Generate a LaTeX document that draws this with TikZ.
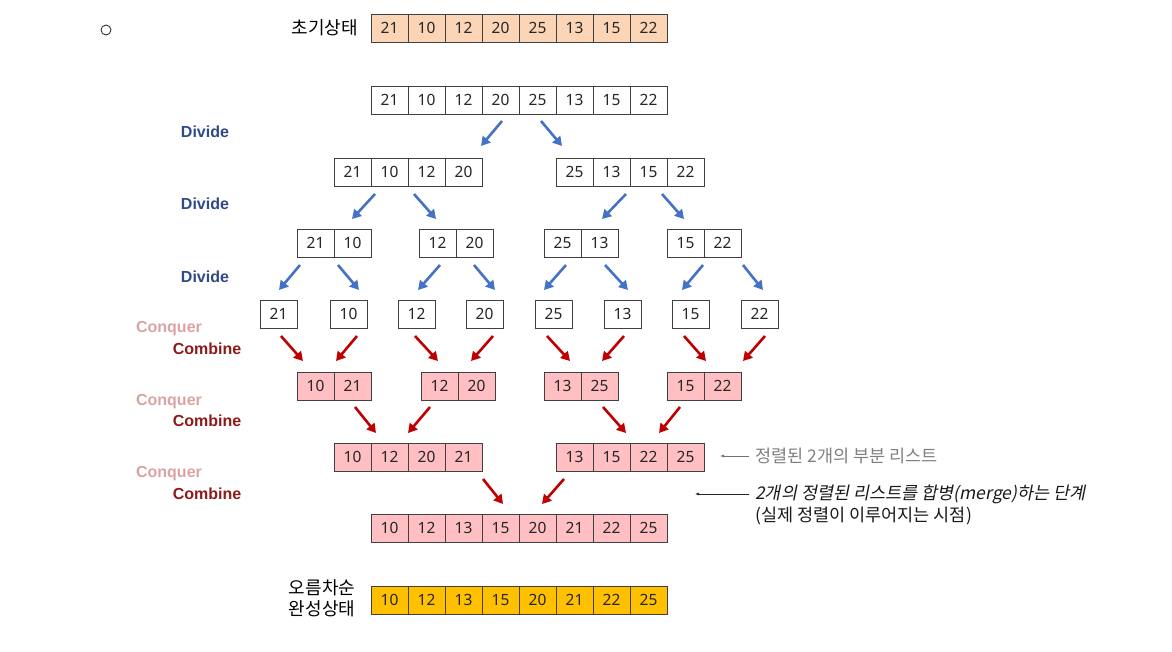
\documentclass[tikz,border=0pt]{standalone}
\usepackage{fontspec}
\setmainfont{Noto Sans}
\newfontfamily\kr{Noto Sans CJK KR}
\newfontfamily\kri{Noto Sans CJK KR}[FakeSlant=0.2]
\newfontfamily\labfont{Liberation Sans}
\usetikzlibrary{arrows.meta}
\definecolor{peach}{HTML}{FBD5B5}
\definecolor{pinkc}{HTML}{FFBFC3}
\definecolor{gold}{HTML}{FFC000}
\definecolor{bluearr}{HTML}{4472C4}
\definecolor{redarr}{HTML}{C00000}
\definecolor{divc}{HTML}{2F4A86}
\definecolor{conqc}{HTML}{D9A3A3}
\definecolor{combc}{HTML}{8E1B1B}
\tikzset{
  cell/.style={draw=black!75, line width=0.8pt, minimum width=37pt, minimum height=28pt, inner sep=0pt, font=\fontsize{15.5}{15.5}\selectfont, text=black!85},
  barr/.style={draw=bluearr, line width=2.6pt, -{Triangle[length=9pt,width=10pt]}},
  rarr/.style={draw=redarr, line width=2.6pt, -{Triangle[length=9pt,width=10pt]}},
  divlab/.style={font=\labfont\bfseries\fontsize{16}{16}\selectfont, text=divc},
  conqlab/.style={font=\labfont\bfseries\fontsize{16}{16}\selectfont, text=conqc},
  comblab/.style={font=\labfont\bfseries\fontsize{16}{16}\selectfont, text=combc},
  note/.style={anchor=west, font=\kr\fontsize{17.5}{21}\selectfont, align=left, inner sep=0pt},
  noteline/.style={line width=0.6pt, -{Latex[length=4pt,width=3pt]}}
}
\newcommand\cellrow[5]{%
  \foreach \v [count=\i] in {#5} {
    \node[cell, fill=#4] (#1-\i) at ({#2+(\i-0.5)*37}, #3) {\v};
  }%
}
\begin{document}
\begin{tikzpicture}[x=1pt, y=-1pt]
\useasboundingbox (0,0) rectangle (1172,651);
\node[draw=black!80, circle, line width=0.9pt, minimum size=10pt, inner sep=0pt] (circ) at (106,30) {};
% initial
\node[anchor=east, font=\kr\fontsize{18}{18}\selectfont, inner sep=0pt] (init) at (358,28) {초기상태};
\cellrow{a}{371}{28}{peach}{21,10,12,20,25,13,15,22}
% row 2
\cellrow{b}{371}{100}{white}{21,10,12,20,25,13,15,22}
% row 3
\cellrow{cl}{334}{172}{white}{21,10,12,20}
\cellrow{cr}{556}{172}{white}{25,13,15,22}
% row 4
\cellrow{d1}{297}{243}{white}{21,10}
\cellrow{d2}{419}{243}{white}{12,20}
\cellrow{d3}{544}{243}{white}{25,13}
\cellrow{d4}{667}{243}{white}{15,22}
% row 5 singles
\cellrow{e1}{260}{314}{white}{21}
\cellrow{e2}{330}{314}{white}{10}
\cellrow{e3}{398}{314}{white}{12}
\cellrow{e4}{466}{314}{white}{20}
\cellrow{e5}{535}{314}{white}{25}
\cellrow{e6}{604}{314}{white}{13}
\cellrow{e7}{672}{314}{white}{15}
\cellrow{e8}{741}{314}{white}{22}
% row 6
\cellrow{f1}{297}{386}{pinkc}{10,21}
\cellrow{f2}{421}{386}{pinkc}{12,20}
\cellrow{f3}{544}{386}{pinkc}{13,25}
\cellrow{f4}{667}{386}{pinkc}{15,22}
% row 7
\cellrow{gl}{334}{457}{pinkc}{10,12,20,21}
\cellrow{gr}{556}{457}{pinkc}{13,15,22,25}
% row 8
\cellrow{h}{371}{528}{pinkc}{10,12,13,15,20,21,22,25}
% final
\cellrow{k}{371}{600}{gold}{10,12,13,15,20,21,22,25}
\node[font=\kr\fontsize{18}{21}\selectfont, align=center, inner sep=0pt] (fin) at (322,598) {오름차순\\완성상태};
% labels
\node[divlab] (dv1) at (205,132) {Divide};
\node[divlab] (dv2) at (205,204) {Divide};
\node[divlab] (dv3) at (205,277) {Divide};
\node[conqlab] (cq1) at (169,329) {Conquer};
\node[comblab] (cb1) at (207,349) {Combine};
\node[conqlab] (cq2) at (169,402) {Conquer};
\node[comblab] (cb2) at (207,421) {Combine};
\node[conqlab] (cq3) at (169,474) {Conquer};
\node[comblab] (cb3) at (207,494) {Combine};
% blue arrows
\foreach \n/\a/\b/\c/\d in {
  1/502/121/481/146, 2/541/121/562/146,
  3/375/194/352/219, 4/414/194/436/219, 5/626/194/602/219, 6/662/194/684/219,
  7/300/265/279/290, 8/338/265/359/290, 9/440/265/418/290, 10/474/265/495/290,
  11/566/265/544/290, 12/605/265/628/290, 13/703/265/682/290, 14/743/265/763/290}{
  \coordinate (bs\n) at (\a,\b); \coordinate (be\n) at (\c,\d);
  \draw[barr] (bs\n) -- (be\n);
}
% red arrows
\foreach \n/\a/\b/\c/\d in {
  1/281/336/303/361, 2/357/336/336/361, 3/415/336/438/361, 4/493/336/471/361,
  5/547/336/570/361, 6/624/336/602/361, 7/684/336/706/361, 8/765/336/743/361,
  9/355/407/376/433, 10/430/407/408/433, 11/603/407/626/433, 12/680/407/659/433,
  13/483/479/503/504, 14/564/479/542/504}{
  \coordinate (rs\n) at (\a,\b); \coordinate (re\n) at (\c,\d);
  \draw[rarr] (rs\n) -- (re\n);
}
% notes
\node[note, text=black!50] (n1) at (755,456) {정렬된 2개의 부분 리스트};
\coordinate (n1e) at (720,456);
\draw[noteline, draw=black!55] ([xshift=-6pt]n1.west) -- (n1e);
\node[note, text=black!90, font=\kri\fontsize{17.5}{22}\selectfont] (n2a) at (755,494) {2개의 정렬된 리스트를 합병(merge)하는 단계};
\node[note, text=black!90] (n2b) at (755,516) {(실제 정렬이 이루어지는 시점)};
\coordinate (n2e) at (695,494);
\draw[noteline, draw=black!85] ([xshift=-6pt]n2a.west) -- (n2e);
\end{tikzpicture}
\end{document}
